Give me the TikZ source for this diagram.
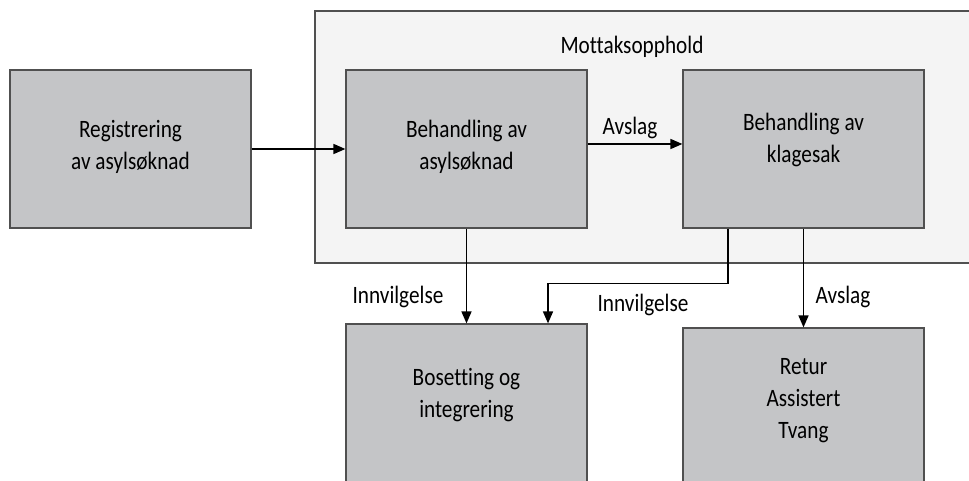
\documentclass[tikz,border=0pt]{standalone}
\usepackage{fontspec}
\setmainfont{Carlito}[FakeStretch=0.85, Ligatures=CommonOff]
\usetikzlibrary{arrows.meta,calc}
\definecolor{boxgray}{HTML}{C4C5C7}
\definecolor{outergray}{HTML}{F4F4F4}
\definecolor{edgegray}{HTML}{505050}
\newcommand{\mylines}[1]{\begin{tabular}[t]{@{}c@{}}#1\end{tabular}}
\tikzset{
  box/.style={draw=edgegray, fill=boxgray, line width=1.2pt, minimum width=241pt, inner sep=0pt},
  lbl/.style={inner sep=0pt, anchor=base, font=\fontsize{25}{32}\selectfont},
  arr/.style={draw=black, line width=1.6pt, -{Triangle[length=12pt,width=10pt]}}
}
\begin{document}
\begin{tikzpicture}[x=1pt,y=-1pt]
\useasboundingbox (0,0) rectangle (969,481);
\clip (0,0) rectangle (969,481);
\fill[white] (0,0) rectangle (969,481);
% outer region
\draw[draw=edgegray, fill=outergray, line width=1.2pt] (315,11) -- (980,11) -- (980,263) -- (315,263) -- cycle;
\node[lbl] (mott) at (632,54) {Mottaksopphold};
% boxes
\node[box, minimum height=158pt] (reg) at (130.5,149) {};
\node[box, minimum height=158pt] (beh) at (466.5,149) {};
\node[box, minimum height=158pt] (kla) at (803.5,149) {};
\node[box, minimum height=176pt] (bos) at (466.5,412) {};
\node[box, minimum height=172pt] (ret) at (803.5,414) {};
% box texts
\node[lbl] (reg-t) at (130.5,138) {\mylines{Registrering\\av asylsøknad}};
\node[lbl] (beh-t) at (466.5,138) {\mylines{Behandling av\\asylsøknad}};
\node[lbl] (kla-t) at (803.5,131) {\mylines{Behandling av\\klagesak}};
\node[lbl] (bos-t) at (466.5,385) {\mylines{Bosetting og\\integrering}};
\node[lbl] (ret-t) at (803.5,374) {\mylines{Retur\\Assistert\\Tvang}};
% connectors
\draw[arr] (reg.east) -- (beh.west);
\draw[arr] ([yshift=5pt]beh.east) -- ([yshift=5pt]kla.west);
\draw[arr] (beh.south) -- (bos.north);
\coordinate (bend) at ($(kla.south)+(-75.5,55)$);
\draw[arr] ([xshift=-75.5pt]kla.south) -- (bend) -| ([xshift=81.5pt]bos.north);
\draw[arr] (kla.south) -- (ret.north);
% labels
\node[lbl] (avs1) at (630,135) {Avslag};
\node[lbl] (inn1) at (398,303) {Innvilgelse};
\node[lbl] (inn2) at (643,311) {Innvilgelse};
\node[lbl] (avs2) at (843,303) {Avslag};
\end{tikzpicture}
\end{document}
